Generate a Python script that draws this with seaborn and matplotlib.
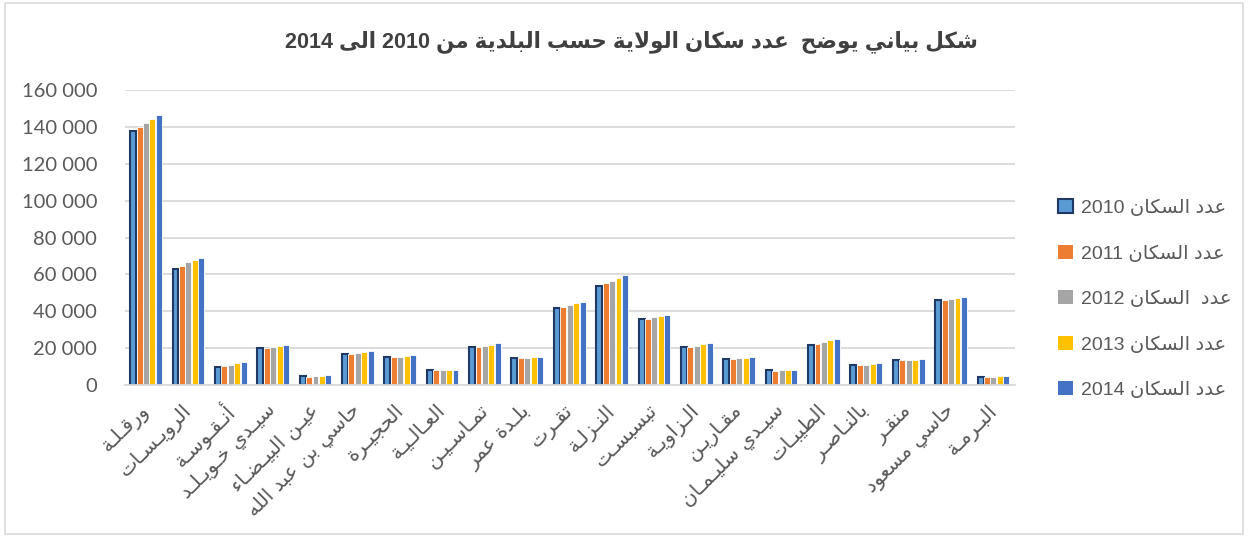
import re

import matplotlib

matplotlib.use("Agg")
import matplotlib.pyplot as plt
from matplotlib.patches import Patch, Rectangle
import pandas as pd
import seaborn as sns

# --- data ---
communes = [
    "ورقـلـة", "الرويـسـات", "أنـقـوسـة", "سيـدي خـويـلـد", "عيـن البيـضـاء",
    "حاسي بن عبد الله", "الحجيـرة", "العـالـيـة", "تمـاسـيـن", "بلـدة عمر",
    "تقـرت", "النـزلـة", "تبسبسـت", "الـزاويـة", "مقـاريـن",
    "سيـدي سليـمـان", "الطيبـات", "بالنـاصـر", "منقـر", "حاسي مسعود", "البـرمـة",
]
years = [2010, 2011, 2012, 2013, 2014]
pop_2010 = [137700, 62700, 9900, 19900, 5000, 17000, 15300, 8100, 20600, 14600,
            41900, 54000, 35800, 20800, 14100, 8000, 21800, 10700, 13400, 45900, 4300]
pop_2011 = [139700, 64700, 10300, 19900, 4500, 17000, 15300, 8000, 20800, 14600,
            42400, 55100, 36100, 20900, 14100, 7800, 22400, 10700, 13600, 46100, 4500]
pop_2012 = [142000, 67000, 11200, 20600, 4900, 17500, 15500, 8100, 21500, 15000,
            43400, 56500, 36700, 21500, 14500, 8100, 23500, 11000, 13600, 46600, 4700]
pop_2013 = [144200, 67900, 11900, 21300, 5000, 17900, 15900, 8300, 22000, 15300,
            44300, 58000, 37400, 22200, 14800, 8100, 24400, 11400, 13700, 47100, 5000]
pop_2014 = [146300, 68700, 12500, 21800, 5300, 18300, 16100, 8300, 22600, 15500,
            45200, 59500, 37900, 22900, 15200, 8500, 24900, 11800, 14100, 47700, 5200]
legend_labels = ["عدد السكان 2010", "عدد السكان 2011", "عدد  السكان 2012",
                 "عدد السكان 2013", "عدد السكان 2014"]
title = "شكل بياني يوضح  عدد سكان الولاية حسب البلدية من 2010 الى 2014"
colors = ["#5B9BD5", "#ED7D31", "#A5A5A5", "#FFC000", "#4472C4"]

# --- minimal Arabic shaping (matplotlib has no RTL / joining support) ---
_PF = [("ء", 0xFE80, 1), ("آ", 0xFE81, 2), ("أ", 0xFE83, 2), ("ؤ", 0xFE85, 2),
       ("إ", 0xFE87, 2), ("ئ", 0xFE89, 4), ("ا", 0xFE8D, 2), ("ب", 0xFE8F, 4),
       ("ة", 0xFE93, 2), ("ت", 0xFE95, 4), ("ث", 0xFE99, 4), ("ج", 0xFE9D, 4),
       ("ح", 0xFEA1, 4), ("خ", 0xFEA5, 4), ("د", 0xFEA9, 2), ("ذ", 0xFEAB, 2),
       ("ر", 0xFEAD, 2), ("ز", 0xFEAF, 2), ("س", 0xFEB1, 4), ("ش", 0xFEB5, 4),
       ("ص", 0xFEB9, 4), ("ض", 0xFEBD, 4), ("ط", 0xFEC1, 4), ("ظ", 0xFEC5, 4),
       ("ع", 0xFEC9, 4), ("غ", 0xFECD, 4), ("ف", 0xFED1, 4), ("ق", 0xFED5, 4),
       ("ك", 0xFED9, 4), ("ل", 0xFEDD, 4), ("م", 0xFEE1, 4), ("ن", 0xFEE5, 4),
       ("ه", 0xFEE9, 4), ("و", 0xFEED, 2), ("ى", 0xFEEF, 2), ("ي", 0xFEF1, 4)]
FORMS = {c: [chr(s + k) for k in range(n)] for c, s, n in _PF}
for alef, s in [("آ", 0xFEF5), ("أ", 0xFEF7), ("إ", 0xFEF9), ("ا", 0xFEFB)]:
    FORMS["ل" + alef] = [chr(s), chr(s + 1)]
TATWEEL = "\u0640"


def _joins_next(t):
    return t == TATWEEL or (t in FORMS and len(FORMS[t]) == 4)


def _joins_prev(t):
    return t == TATWEEL or (t in FORMS and len(FORMS[t]) >= 2)


def shape_line(line):
    toks, i = [], 0
    while i < len(line):
        if line[i] == "ل" and i + 1 < len(line) and "ل" + line[i + 1] in FORMS:
            toks.append("ل" + line[i + 1])
            i += 2
        else:
            toks.append(line[i])
            i += 1
    out = []
    for k, t in enumerate(toks):
        if t not in FORMS:
            out.append(t)
            continue
        p = k > 0 and _joins_next(toks[k - 1]) and _joins_prev(t)
        n = k < len(toks) - 1 and _joins_next(t) and _joins_prev(toks[k + 1])
        f = FORMS[t]
        if p and n:
            out.append(f[3] if len(f) == 4 else f[1])
        elif p:
            out.append(f[1])
        elif n and len(f) == 4:
            out.append(f[2])
        else:
            out.append(f[0])
    vis = "".join(out)[::-1]
    return re.sub(r"[0-9]+", lambda m: m.group(0)[::-1], vis)


def ar(text):
    return "\n".join(shape_line(l) for l in text.split("\n"))


# --- long-format frame for seaborn ---
rows = []
for y, vals in zip(years, [pop_2010, pop_2011, pop_2012, pop_2013, pop_2014]):
    for c, v in zip(communes, vals):
        rows.append({"commune": c, "year": str(y), "pop": v})
df = pd.DataFrame(rows)

sns.set_theme(style="white")
plt.rcParams["font.family"] = ["Liberation Sans", "DejaVu Sans"]

fig = plt.figure(figsize=(12.48, 5.38), dpi=100)
ax = fig.add_axes([0.100, 0.284, 0.713, 0.549])

sns.barplot(data=df, x="commune", y="pop", hue="year", palette=colors,
            saturation=1, width=0.76, gap=0.08, edgecolor="white",
            linewidth=0.6, legend=False, ax=ax)

# first series has the dark outline like the original
for bar in ax.containers[0]:
    bar.set_edgecolor("#1F3864")
    bar.set_linewidth(1.5)

ax.set_ylim(0, 160000)
ax.set_yticks(range(0, 160001, 20000))
ax.set_yticklabels([f"{v:,}".replace(",", " ") for v in range(0, 160001, 20000)],
                   fontsize=14.5, color="#595959", family=["Lato", "DejaVu Sans"])
ax.set_xticks(range(len(communes)))
ax.set_xticklabels([ar(c) for c in communes], rotation=45, ha="right",
                   va="center", rotation_mode="anchor", fontsize=14.5,
                   color="#595959", family=["DejaVu Sans"])
ax.tick_params(axis="y", length=0, pad=20)
ax.tick_params(axis="x", length=0, pad=16)
ax.set_xlabel("")
ax.set_ylabel("")

ax.yaxis.grid(True, color="#D9D9D9", linewidth=1.3)
ax.set_axisbelow(True)
for s in ["top", "right", "left"]:
    ax.spines[s].set_visible(False)
ax.spines["bottom"].set_color("#D9D9D9")
ax.spines["bottom"].set_linewidth(1.3)

handles = [Patch(facecolor=colors[0], edgecolor="#1F3864", linewidth=1.5)]
handles += [Patch(facecolor=c, edgecolor="none") for c in colors[1:]]
fig.legend(handles, [ar(l) for l in legend_labels], loc="upper left",
           bbox_to_anchor=(0.840, 0.648), frameon=False, fontsize=14,
           labelcolor="#595959", handlelength=0.75, handleheight=0.75,
           handletextpad=0.45, labelspacing=1.42, borderpad=0)

fig.text(0.506, 0.922, ar(title), ha="center", va="center", fontsize=15.5,
         fontweight="bold", color="#404040")

fig.patches.append(Rectangle((0.004, 0.008), 0.992, 0.986, transform=fig.transFigure,
                             fill=False, edgecolor="#D9D9D9", linewidth=1.2))

fig.savefig("out.png", dpi=100)
